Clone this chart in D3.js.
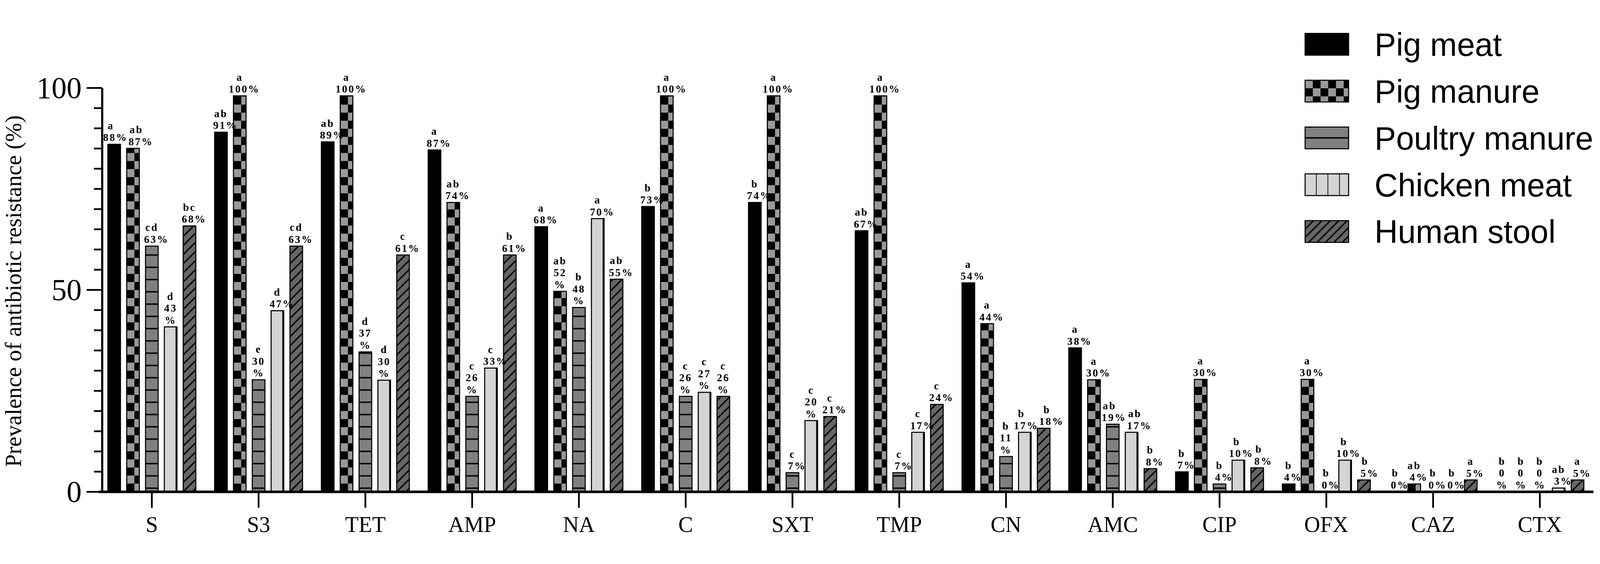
<!DOCTYPE html>
<html>
<head>
<meta charset="utf-8">
<script src="https://cdn.jsdelivr.net/npm/d3@7"></script>
<style>
  html, body { margin: 0; padding: 0; background: #fff; overflow: hidden; }
  svg { display: block; width: 100vw; height: 100vh; }
  .lbl { font-family: 'Liberation Serif', 'Times New Roman', serif; font-weight: bold; font-size: 30px; letter-spacing: 3.5px; }
</style>
</head>
<body>
<div id="chart"></div>
<script>
var w = 4563;
var h = 1444;

var antibiotics = ["S", "S3", "TET", "AMP", "NA", "C", "SXT", "TMP", "CN", "AMC", "CIP", "OFX", "CAZ", "CTX"];
var sources = ["Pig meat", "Pig manure", "Poultry manure", "Chicken meat", "Human stool"];

// bar heights as drawn in the figure (%)
var pigMeat       = [86.0, 89.0, 86.6, 84.6, 65.6, 70.6, 71.6, 64.6, 51.7, 35.6, 4.9, 1.9, 0, 0];
var pigManure     = [85.0, 98.0, 98.0, 71.6, 49.6, 98.0, 98.0, 98.0, 41.6, 27.7, 27.8, 27.8, 1.9, 0];
var poultryManure = [60.8, 27.7, 34.6, 23.6, 45.6, 23.6, 4.7, 4.7, 8.7, 16.7, 1.9, 0, 0, 0];
var chickenMeat   = [40.8, 44.8, 27.6, 30.6, 67.6, 24.6, 17.6, 14.7, 14.7, 14.7, 7.8, 7.8, 0, 0.9];
var humanStool    = [65.8, 60.8, 58.6, 58.6, 52.6, 23.6, 18.6, 21.6, 15.7, 5.7, 5.9, 2.9, 2.9, 2.9];

// significance letters printed above the bars
var pigMeatLetters       = ["a", "ab", "ab", "a", "a", "b", "b", "ab", "a", "a", "b", "b", "b", "b"];
var pigManureLetters     = ["ab", "a", "a", "ab", "ab", "a", "a", "a", "a", "a", "a", "a", "ab", "b"];
var poultryManureLetters = ["cd", "e", "d", "c", "b", "c", "c", "c", "b", "ab", "b", "b", "b", "b"];
var chickenMeatLetters   = ["d", "d", "d", "c", "a", "c", "c", "c", "b", "ab", "b", "b", "b", "ab"];
var humanStoolLetters    = ["bc", "cd", "c", "b", "ab", "c", "c", "c", "b", "b", "b", "b", "a", "a"];

// printed percentages ("\n" = the % sign wraps to its own line)
var pigMeatPct       = ["88%", "91%", "89%", "87%", "68%", "73%", "74%", "67%", "54%", "38%", "7%", "4%", "0%", "0\n%"];
var pigManurePct     = ["87%", "100%", "100%", "74%", "52\n%", "100%", "100%", "100%", "44%", "30%", "30%", "30%", "4%", "0\n%"];
var poultryManurePct = ["63%", "30\n%", "37\n%", "26\n%", "48\n%", "26\n%", "7%", "7%", "11\n%", "19%", "4%", "0%", "0%", "0\n%"];
var chickenMeatPct   = ["43\n%", "47%", "30\n%", "33%", "70%", "27\n%", "20\n%", "17%", "17%", "17%", "10%", "10%", "0%", "3%"];
var humanStoolPct    = ["68%", "63%", "61%", "61%", "55%", "26\n%", "21%", "24%", "18%", "8%", "8%", "5%", "5%", "5%"];

var series = [
  {name: sources[0], values: pigMeat,       letters: pigMeatLetters,       pct: pigMeatPct},
  {name: sources[1], values: pigManure,     letters: pigManureLetters,     pct: pigManurePct},
  {name: sources[2], values: poultryManure, letters: poultryManureLetters, pct: poultryManurePct},
  {name: sources[3], values: chickenMeat,   letters: chickenMeatLetters,   pct: chickenMeatPct},
  {name: sources[4], values: humanStool,    letters: humanStoolLetters,    pct: humanStoolPct}
];

var svg = d3.select("#chart")
    .append("svg")
    .attr("viewBox", "0 0 " + w + " " + h);

// fill patterns
var defs = svg.append("defs");

function checker(id, cw, ch) {
  var p = defs.append("pattern").attr("id", id).attr("patternUnits", "userSpaceOnUse")
      .attr("width", cw * 2).attr("height", ch * 2);
  p.append("rect").attr("width", cw * 2).attr("height", ch * 2).attr("fill", "#999999");
  p.append("rect").attr("x", cw).attr("width", cw).attr("height", ch).attr("fill", "#000");
  p.append("rect").attr("y", ch).attr("width", cw).attr("height", ch).attr("fill", "#000");
}
function hlines(id, gap, at) {
  var p = defs.append("pattern").attr("id", id).attr("patternUnits", "userSpaceOnUse")
      .attr("width", 10).attr("height", gap);
  p.append("rect").attr("width", 10).attr("height", gap).attr("fill", "#808080");
  p.append("rect").attr("y", at).attr("width", 10).attr("height", 4).attr("fill", "#000");
}
function vlines(id, gap, at) {
  var p = defs.append("pattern").attr("id", id).attr("patternUnits", "userSpaceOnUse")
      .attr("width", gap).attr("height", 10);
  p.append("rect").attr("width", gap).attr("height", 10).attr("fill", "#d4d4d4");
  p.append("rect").attr("x", at).attr("width", 4).attr("height", 10).attr("fill", "#000");
}
function diag(id, gap) {
  var p = defs.append("pattern").attr("id", id).attr("patternUnits", "userSpaceOnUse")
      .attr("width", gap).attr("height", gap);
  p.append("rect").attr("width", gap).attr("height", gap).attr("fill", "#666666");
  p.append("path")
      .attr("d", "M-6,6L6,-6M0," + gap + "L" + gap + ",0M" + (gap - 6) + "," + (gap + 6) + "L" + (gap + 6) + "," + (gap - 6))
      .attr("stroke", "#000").attr("stroke-width", 4);
}

checker("chk", 22, 23);
hlines("hln", 35, 23);
vlines("vln", 36, 32);
diag("dia", 26);
// legend swatches
hlines("hln-leg", 62, 29);
vlines("vln-leg", 33, 31);
diag("dia-leg", 24);

var fills    = ["#000", "url(#chk)", "url(#hln)", "url(#vln)", "url(#dia)"];
var legFills = ["#000", "url(#chk)", "url(#hln-leg)", "url(#vln-leg)", "url(#dia-leg)"];

// scales
var x0 = d3.scaleBand()
    .domain(antibiotics)
    .range([280.75, 4543.75]);

var x1 = d3.scaleBand()
    .domain(sources)
    .range([26.85, 277.65])
    .paddingInner(0.33);

var y = d3.scaleLinear()
    .domain([0, 100])
    .range([1320, 168]);

var y0 = y(0);

var groups = svg.append("g").selectAll("g")
    .data(antibiotics)
    .enter().append("g")
    .attr("transform", function(d) { return "translate(" + x0(d) + ",0)"; });

// bars, each in its own group so the pattern starts at the bar's lower left corner
groups.selectAll("g")
    .data(function(d, i) {
      return series.map(function(s, k) { return {src: s.name, k: k, v: s.values[i]}; });
    })
    .enter().append("g")
    .attr("transform", function(d) { return "translate(" + x1(d.src) + "," + y0 + ")"; })
    .filter(function(d) { return d.v > 0; })
    .append("rect")
    .attr("x", 0)
    .attr("y", function(d) { return y(d.v) - y0; })
    .attr("width", x1.bandwidth())
    .attr("height", function(d) { return y0 - y(d.v); })
    .attr("fill", function(d) { return fills[d.k]; })
    .attr("stroke", "#000")
    .attr("stroke-width", 3);

// value labels: letter on top, percentage below; number centred on the bar, % trailing
groups.each(function(cat, i) {
  var g = d3.select(this);
  var labels = series.map(function(s) {
    var cx = x1(s.name) + x1.bandwidth() / 2;
    var lines = [s.letters[i]].concat(s.pct[i].split("\n"));
    var base = y(s.values[i]) - 9;
    var els = lines.map(function(line, n) {
      var lx = cx + (/\d%$/.test(line) ? 13 : 0);
      var ly = base - (lines.length - 1 - n) * 34;
      var t = g.append("text")
          .attr("class", "lbl")
          .attr("x", lx)
          .attr("y", ly)
          .attr("text-anchor", "middle")
          .text(line);
      return {el: t, x: lx, y: ly, len: t.node().getComputedTextLength()};
    });
    return {lines: els, dx: 0};
  });
  // push neighbouring labels apart when they collide
  for (var j = 1; j < labels.length; j++) {
    var a = labels[j - 1], b = labels[j], ov = 0;
    a.lines.forEach(function(la) {
      b.lines.forEach(function(lb) {
        if (Math.abs(la.y - lb.y) < 30) {
          ov = Math.max(ov, (la.x + a.dx + la.len / 2) - (lb.x + b.dx - lb.len / 2) + 2);
        }
      });
    });
    if (ov > 0) { a.dx -= ov / 2; b.dx += ov / 2; }
  }
  labels.forEach(function(l) {
    l.lines.forEach(function(ln) { ln.el.attr("x", ln.x + l.dx); });
  });
});

// y axis: minor ticks every 5, labelled ticks at 0, 50, 100
var minorTicks = d3.range(0, 101, 5).filter(function(v) { return v % 50 !== 0; });

svg.append("g")
    .attr("transform", "translate(291,0)")
    .call(d3.axisLeft(y).tickValues(minorTicks).tickSize(23).tickSizeOuter(0).tickFormat(""))
    .call(function(g) { g.select(".domain").remove(); })
    .selectAll("line").attr("stroke-width", 5);

var yAxis = svg.append("g")
    .attr("transform", "translate(291,0)")
    .call(d3.axisLeft(y).tickValues([0, 50, 100]).tickSize(44).tickSizeOuter(0).tickPadding(14));

yAxis.select(".domain").attr("stroke-width", 6);
yAxis.selectAll("line").attr("stroke-width", 5);
yAxis.selectAll("text")
    .attr("dy", "0.34em")
    .style("font-family", "'Liberation Serif', 'Times New Roman', serif")
    .style("font-size", "86px");

// x axis
var xAxis = svg.append("g")
    .attr("transform", "translate(0," + y0 + ")")
    .call(d3.axisBottom(x0).tickSize(46).tickSizeOuter(0));

xAxis.select(".domain").attr("stroke-width", 7);
xAxis.selectAll("line").attr("stroke-width", 5);
xAxis.selectAll("text")
    .attr("y", 115)
    .attr("dy", 0)
    .style("font-family", "'Liberation Serif', 'Times New Roman', serif")
    .style("font-size", "63px");

// y axis title
svg.append("text")
    .attr("transform", "translate(60,748) rotate(-90)")
    .attr("text-anchor", "middle")
    .style("font-family", "'Liberation Serif', 'Times New Roman', serif")
    .style("font-size", "65px")
    .text("Prevalence of antibiotic resistance (%)");

// legend
var legend = svg.append("g").selectAll("g")
    .data(sources)
    .enter().append("g")
    .attr("transform", function(d, i) { return "translate(3722," + (13 + i * 133.5) + ")"; });

legend.append("rect")
    .attr("width", 124)
    .attr("height", 62)
    .attr("fill", function(d, i) { return legFills[i]; })
    .attr("stroke", "#000")
    .attr("stroke-width", 3);

legend.append("text")
    .attr("x", 198)
    .attr("y", 64)
    .style("font-family", "'Liberation Sans', Arial, sans-serif")
    .style("font-size", "92px")
    .text(function(d) { return d; });
</script>
</body>
</html>
